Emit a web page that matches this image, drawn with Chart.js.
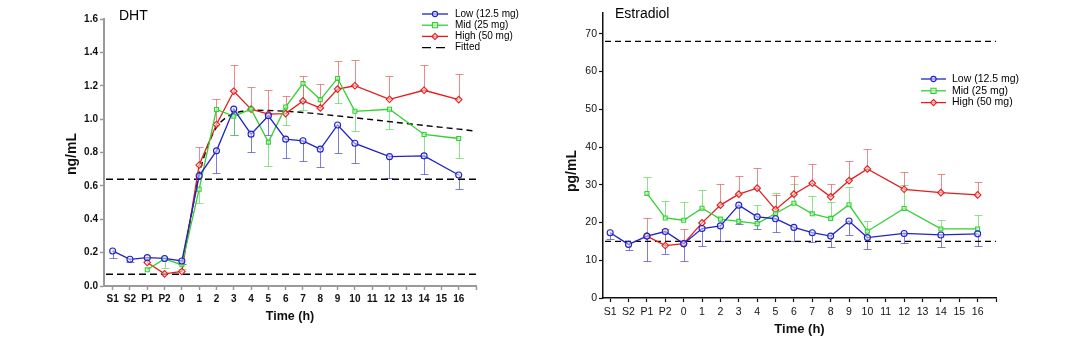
<!DOCTYPE html>
<html><head><meta charset="utf-8">
<script src="https://cdn.jsdelivr.net/npm/chart.js@4/dist/chart.umd.min.js"></script>
<style>
html,body{margin:0;padding:0;background:#fff;width:1075px;height:357px;overflow:hidden}
canvas{position:absolute;top:0}
#c1{left:0px} #c2{left:540px}
</style></head><body>
<canvas id="c1" width="540" height="357"></canvas>
<canvas id="c2" width="535" height="357"></canvas>
<script>
// ---------- data ----------
const timeLabels = ['S1','S2','P1','P2','0','1','2','3','4','5','6','7','8','9','10','11','12','13','14','15','16'];
const seriesNames = ['Low (12.5 mg)','Mid (25 mg)','High (50 mg)'];

// DHT (ng/mL)
const dhtLow     = [0.21, 0.16, 0.17, 0.165, 0.15, 0.66, 0.81, 1.06, 0.91, 1.02, 0.88, 0.87, 0.82, 0.965, 0.855, null, 0.775, null, 0.78, null, 0.665];
const dhtLowErr  = [0.17, 0.145, null, null, 0.13, null, 0.675, 0.905, 0.805, 0.905, 0.765, 0.75, 0.715, 0.80, 0.74, null, 0.65, null, 0.67, null, 0.58];
const dhtMid     = [null, null, 0.097, 0.163, 0.127, 0.58, 1.058, 1.017, 1.06, 0.862, 1.073, 1.213, 1.117, 1.244, 1.047, null, 1.059, null, 0.908, null, 0.884];
const dhtMidErr  = [null, null, null, 0.105, 0.10, 0.50, null, 0.904, null, 0.72, 0.965, 1.053, null, 1.095, 0.927, null, 0.938, null, 0.765, null, 0.765];
const dhtHigh    = [null, null, 0.141, 0.073, 0.087, 0.725, 0.968, 1.167, 1.06, 1.03, 1.033, 1.109, 1.067, 1.18, 1.2, null, 1.119, null, 1.173, null, 1.117];
const dhtHighErr = [null, null, null, null, null, 0.83, 1.12, 1.324, 1.19, 1.173, 1.137, 1.26, 1.21, 1.35, 1.356, null, 1.258, null, 1.326, null, 1.272];
const dhtFittedX = [4, 4.5, 5, 5.5, 6, 6.5, 7, 7.5, 8, 9, 10, 11, 12, 14, 16, 18, 20, 21];
const dhtFittedY = [0.12, 0.40, 0.67, 0.84, 0.95, 1.005, 1.033, 1.047, 1.053, 1.052, 1.047, 1.04, 1.03, 1.008, 0.985, 0.962, 0.94, 0.928];
const dhtRefLines = [0.64, 0.07];
const dhtYTicks = [0, 0.2, 0.4, 0.6, 0.8, 1.0, 1.2, 1.4, 1.6];

// Estradiol (pg/mL)
const e2Low     = [17.3, 14.2, 16.4, 17.6, 14.4, 18.4, 19.1, 24.6, 21.5, 21.0, 18.7, 17.3, 16.4, 20.4, 16.0, null, 17.1, null, 16.7, null, 17.0];
const e2LowErr  = [15.5, 12.7, 9.9, 11.7, 9.7, 13.9, 15.0, 19.5, 18.2, 17.6, 15.2, 14.9, 13.6, 16.8, 13.0, null, 14.5, null, 13.5, null, 13.9];
const e2Mid     = [null, null, 27.7, 21.2, 20.6, 23.8, 20.9, 20.3, 19.7, 22.4, 25.1, 22.3, 21.1, 24.7, 17.7, null, 23.7, null, 18.3, null, 18.3];
const e2MidErr  = [null, null, 32.1, 25.6, 25.5, 28.6, null, null, 24.6, 27.9, 30.3, 26.9, 25.5, 29.5, 20.4, null, 30.0, null, 20.6, null, 21.9];
const e2High    = [null, null, 16.4, 13.9, 14.4, 19.9, 24.6, 27.5, 29.1, 23.4, 27.5, 30.4, 26.8, 31.1, 34.2, null, 28.8, null, 27.9, null, 27.3];
const e2HighErr = [null, null, 21.2, 18.4, 18.2, null, 30.3, 32.2, 34.4, 27.2, 32.2, 35.6, 30.3, 36.2, 39.6, null, 33.5, null, 32.8, null, 30.6];
const e2RefLines = [68, 15];
const e2YTicks = [0, 10, 20, 30, 40, 50, 60, 70];

// ---------- styling ----------
const FONT = "'Liberation Sans', Arial, Helvetica, sans-serif";
Chart.defaults.font.family = FONT;
const COLORS = {
  low:  {line:'#2222c8', err:'rgba(70,70,205,0.7)', fill:'rgba(225,225,255,0.55)', style:'circle', r:3.0},
  mid:  {line:'#33d033', err:'rgba(90,215,90,0.7)', fill:'rgba(225,255,225,0.55)', style:'rect', r:2.8},
  high: {line:'#e41c1c', err:'rgba(225,90,90,0.7)', fill:'rgba(255,220,220,0.55)', style:'rectRot', r:3.3}
};
const tickIdx = timeLabels.map((_, i) => i).concat([timeLabels.length]);
const toPts = vals => vals.map((v, i) => ({x: i, y: v}));

function seriesDS(name, vals, errs, c) {
  return {
    label: name, data: toPts(vals), errEnd: errs, errColor: c.err,
    borderColor: c.line, borderWidth: 1.3, pointStyle: c.style,
    pointRadius: c.r, pointBorderWidth: 1.1,
    pointBorderColor: c.line, pointBackgroundColor: c.fill,
    spanGaps: true, tension: 0
  };
}

// ---------- plugins ----------
const errPlugin = {
  id: 'errbars',
  beforeDatasetsDraw(chart) {
    const {ctx, scales: {x, y}} = chart;
    chart.data.datasets.forEach(ds => {
      if (!ds.errEnd) return;
      ctx.save();
      ctx.strokeStyle = ds.errColor; ctx.lineWidth = 1;
      ds.errEnd.forEach((e, i) => {
        const v = ds.data[i].y;
        if (e == null || v == null) return;
        const px = Math.round(x.getPixelForValue(i)) + 0.5;
        const p1 = y.getPixelForValue(v), p2 = Math.round(y.getPixelForValue(e)) + 0.5;
        ctx.beginPath();
        ctx.moveTo(px, p1); ctx.lineTo(px, p2);
        ctx.moveTo(px - 4, p2); ctx.lineTo(px + 4, p2);
        ctx.stroke();
      });
      ctx.restore();
    });
  }
};

const refPlugin = {
  id: 'refs',
  beforeDatasetsDraw(chart, args, o) {
    const {ctx, chartArea: a, scales: {y}} = chart;
    (o.values || []).forEach(v => {
      const py = y.getPixelForValue(v);
      ctx.save();
      ctx.setLineDash(o.dash); ctx.lineWidth = o.width; ctx.strokeStyle = '#000';
      ctx.beginPath(); ctx.moveTo(a.left + 2, py); ctx.lineTo(a.right, py); ctx.stroke();
      ctx.restore();
    });
  }
};

function drawMarker(ctx, style, x, y, r, stroke, fill) {
  ctx.save();
  ctx.setLineDash([]);
  ctx.strokeStyle = stroke; ctx.fillStyle = fill; ctx.lineWidth = 1.1;
  ctx.beginPath();
  if (style === 'circle') ctx.arc(x, y, r, 0, Math.PI * 2);
  else if (style === 'rect') ctx.rect(x - r, y - r, 2 * r, 2 * r);
  else { ctx.moveTo(x, y - r - 0.5); ctx.lineTo(x + r + 0.5, y); ctx.lineTo(x, y + r + 0.5); ctx.lineTo(x - r - 0.5, y); ctx.closePath(); }
  ctx.fill(); ctx.stroke();
  ctx.restore();
}

const annotPlugin = {
  id: 'annot',
  afterDraw(chart, args, o) {
    const ctx = chart.ctx;
    ctx.save();
    ctx.textBaseline = 'middle'; ctx.textAlign = 'left'; ctx.fillStyle = '#000';
    ctx.font = o.titleFont;
    ctx.fillText(o.title, o.titleX, o.titleY);
    // rotated y-axis title
    ctx.save();
    ctx.translate(o.yTitleX, o.yTitleY); ctx.rotate(-Math.PI / 2);
    ctx.textAlign = 'center'; ctx.font = o.yTitleFont; ctx.fillStyle = '#111';
    ctx.fillText(o.yTitle, 0, 0);
    ctx.restore();
    ctx.font = o.font;
    chart.data.datasets.forEach((d, k) => {
      const yy = o.y + k * o.rowH;
      ctx.save();
      ctx.strokeStyle = d.borderColor; ctx.lineWidth = d.borderWidth;
      ctx.setLineDash(d.legendDash || []);
      ctx.beginPath(); ctx.moveTo(o.x, yy); ctx.lineTo(o.x + o.lineW, yy); ctx.stroke();
      ctx.restore();
      if (d.pointRadius > 0) drawMarker(ctx, d.pointStyle, o.x + o.lineW / 2, yy, 2.6, d.borderColor, d.pointBackgroundColor);
      ctx.fillStyle = '#000';
      ctx.fillText(d.label, o.x + o.lineW + o.gap, yy);
    });
    ctx.restore();
  }
};

// ---------- DHT chart ----------
const gray = '#9a9a9a';
new Chart(document.getElementById('c1'), {
  type: 'line',
  data: {
    datasets: [
      seriesDS(seriesNames[0], dhtLow, dhtLowErr, COLORS.low),
      seriesDS(seriesNames[1], dhtMid, dhtMidErr, COLORS.mid),
      seriesDS(seriesNames[2], dhtHigh, dhtHighErr, COLORS.high),
      { label: 'Fitted', data: dhtFittedX.map((x, i) => ({x, y: dhtFittedY[i]})),
        borderColor: '#000', borderWidth: 1.4, borderDash: [6, 4], legendDash: [9, 5],
        pointRadius: 0, cubicInterpolationMode: 'monotone', spanGaps: true }
    ]
  },
  options: {
    responsive: false, animation: false, devicePixelRatio: 1,
    layout: { padding: { left: 61, top: 19, right: 64, bottom: 0 } },
    plugins: {
      legend: { display: false }, tooltip: { enabled: false },
      refs: { values: dhtRefLines, dash: [7, 4], width: 1.6 },
      annot: { title: 'DHT', titleFont: '14px ' + FONT, titleX: 119, titleY: 16,
               yTitle: 'ng/mL', yTitleFont: 'bold 14px ' + FONT, yTitleX: 72, yTitleY: 154,
               font: '10px ' + FONT, x: 422, y: 14, rowH: 11.2, lineW: 26, gap: 7 }
    },
    scales: {
      x: {
        type: 'linear', min: -0.5, max: 21,
        afterBuildTicks: s => { s.ticks = tickIdx.map(v => ({value: v})); },
        afterFit: s => { s.height = 71; },
        ticks: { autoSkip: false, maxRotation: 0, padding: 3, color: '#111',
                 font: { size: 10, weight: 'bold' }, callback: v => timeLabels[v] ?? '' },
        grid: { drawOnChartArea: false, drawTicks: true, tickLength: 4, color: gray, tickWidth: 1.5 },
        border: { display: true, color: gray, width: 2 },
        title: { display: true, text: 'Time (h)', color: '#111',
                 font: { size: 12.5, weight: 'bold' }, padding: { top: 0, bottom: 33 } }
      },
      y: {
        min: 0, max: 1.6,
        afterBuildTicks: s => { s.ticks = dhtYTicks.map(v => ({value: v})); },
        afterFit: s => { s.width = 43; },
        ticks: { padding: 2, color: '#111', font: { size: 10, weight: 'bold' }, callback: v => v.toFixed(1) },
        grid: { drawOnChartArea: false, drawTicks: true, tickLength: 4, color: gray, tickWidth: 1.5 },
        border: { display: true, color: gray, width: 2 },
        title: { display: false }
      }
    }
  },
  plugins: [errPlugin, refPlugin, annotPlugin]
});

// ---------- Estradiol chart ----------
new Chart(document.getElementById('c2'), {
  type: 'line',
  data: {
    datasets: [
      seriesDS(seriesNames[0], e2Low, e2LowErr, COLORS.low),
      seriesDS(seriesNames[1], e2Mid, e2MidErr, COLORS.mid),
      seriesDS(seriesNames[2], e2High, e2HighErr, COLORS.high)
    ]
  },
  options: {
    responsive: false, animation: false, devicePixelRatio: 1,
    layout: { padding: { left: 20, top: 13, right: 79, bottom: 0 } },
    plugins: {
      legend: { display: false }, tooltip: { enabled: false },
      refs: { values: e2RefLines, dash: [6, 4], width: 1.2 },
      annot: { title: 'Estradiol', titleFont: '14px ' + FONT, titleX: 75, titleY: 14,
               yTitle: 'pg/mL', yTitleFont: 'bold 14px ' + FONT, yTitleX: 32, yTitleY: 171,
               font: '10.5px ' + FONT, x: 381, y: 79, rowH: 11.8, lineW: 25, gap: 6 }
    },
    scales: {
      x: {
        type: 'linear', min: -0.39, max: 21,
        afterBuildTicks: s => { s.ticks = tickIdx.map(v => ({value: v})); },
        afterFit: s => { s.height = 59; },
        ticks: { autoSkip: false, maxRotation: 0, padding: 4, color: '#111',
                 font: { size: 10.5 }, callback: v => timeLabels[v] ?? '' },
        grid: { drawOnChartArea: false, drawTicks: true, tickLength: 4, color: '#111', tickWidth: 1.2 },
        border: { display: true, color: '#111', width: 1.5 },
        title: { display: true, text: 'Time (h)', color: '#111',
                 font: { size: 13, weight: 'bold' }, padding: { top: 0, bottom: 20 } }
      },
      y: {
        min: 0, max: 75.5,
        afterBuildTicks: s => { s.ticks = e2YTicks.map(v => ({value: v})); },
        afterFit: s => { s.width = 43; },
        ticks: { padding: 2, color: '#111', font: { size: 10.5 } },
        grid: { drawOnChartArea: false, drawTicks: true, tickLength: 4, color: '#111', tickWidth: 1.2 },
        border: { display: true, color: '#111', width: 1.5 },
        title: { display: false }
      }
    }
  },
  plugins: [errPlugin, refPlugin, annotPlugin]
});
</script>
</body></html>
